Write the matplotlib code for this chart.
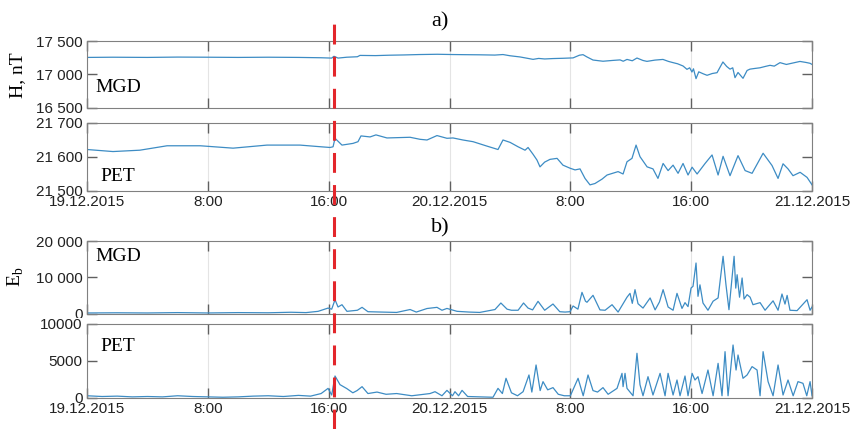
import numpy as np
import matplotlib.pyplot as plt
from matplotlib.lines import Line2D

plt.rcParams['font.family'] = 'Liberation Sans'

# time axis in hours from 19.12.2015 00:00
hour_ticks = [0, 8, 16, 24, 32, 40, 48]
tick_labels = ['19.12.2015', '8:00', '16:00', '20.12.2015', '8:00', '16:00', '21.12.2015']
event_hour = 16.35  # red dashed marker

# a) H component, MGD
mgd_h_t = [0, 1.7, 4, 6, 8, 10, 12, 14, 15.5, 16.2,
           16.35, 16.62, 17.2, 17.9, 18.07, 19.1, 20, 21, 22, 23.2,
           24.2, 25, 26, 27, 27.54, 28, 28.67, 29.2, 29.53, 29.9,
           30.3, 30.85, 31.5, 32.18, 32.6, 32.84, 33.1, 33.5, 34.16, 34.8,
           35.29, 35.5, 35.75, 36.1, 36.41, 36.8, 37.07, 37.6, 38.13, 38.5,
           38.8, 39.1, 39.46, 39.72, 39.9, 40.05, 40.15, 40.32, 40.5, 40.8,
           41.05, 41.4, 41.71, 42.1, 42.35, 42.57, 42.75, 42.9, 43.1, 43.43,
           43.7, 43.89, 44.2, 44.55, 44.9, 45.22, 45.5, 45.88, 46.3, 46.7,
           47.2, 47.6, 47.87, 48]
mgd_h = [17255, 17258, 17255, 17260, 17258, 17255, 17258, 17255, 17250, 17245,
         17272, 17245, 17258, 17265, 17285, 17282, 17288, 17292, 17298, 17302,
         17298, 17296, 17294, 17290, 17298, 17280, 17262, 17240, 17226, 17240,
         17232, 17238, 17242, 17248, 17288, 17296, 17262, 17216, 17198, 17210,
         17218, 17198, 17225, 17205, 17246, 17210, 17196, 17215, 17225, 17195,
         17177, 17160, 17127, 17077, 17100, 17037, 17085, 16938, 17040, 17010,
         16988, 17015, 17027, 17187, 17120, 17080, 17100, 16953, 17030, 16943,
         17060, 17080, 17090, 17100, 17120, 17137, 17125, 17177, 17150, 17170,
         17195, 17180, 17167, 17150]

# a) H component, PET
pet_h_t = [0, 1.72, 3.5, 5.3, 7.5, 9.67, 11.92, 14.1, 15.5, 16.09,
           16.29, 16.42, 16.88, 17.61, 17.94, 18.14, 18.74, 19.13, 19.86, 21.39,
           22.05, 22.51, 23.17, 23.83, 24.23, 24.89, 25.56, 26.48, 27.21, 27.54,
           28.01, 28.54, 29.0, 29.2, 29.53, 29.79, 29.99, 30.3, 30.65, 31.12,
           31.51, 31.98, 32.31, 32.64, 32.97, 33.3, 33.63, 34.1, 34.43, 35.16,
           35.49, 35.75, 36.08, 36.35, 36.61, 37.08, 37.47, 37.8, 38.14, 38.47,
           38.8, 39.13, 39.46, 39.79, 40.06, 40.39, 40.92, 41.38, 41.78, 42.11,
           42.57, 43.1, 43.57, 44.03, 44.76, 45.35, 45.75, 46.08, 46.41, 46.74,
           47.21, 47.67, 48.0]
pet_h = [21622, 21616, 21620, 21633, 21633, 21626, 21635, 21635, 21630, 21628,
         21630, 21655, 21635, 21640, 21645, 21662, 21659, 21665, 21656, 21658,
         21652, 21650, 21663, 21655, 21656, 21650, 21645, 21632, 21622, 21650,
         21643, 21630, 21620, 21628, 21608, 21591, 21571, 21585, 21593, 21596,
         21576, 21567, 21562, 21565, 21537, 21518, 21522, 21535, 21547, 21557,
         21550, 21586, 21596, 21635, 21601, 21571, 21565, 21537, 21581, 21560,
         21576, 21552, 21581, 21547, 21570, 21550, 21581, 21606, 21547, 21602,
         21545, 21604, 21560, 21552, 21611, 21575, 21537, 21580, 21565, 21545,
         21555, 21540, 21518]

# b) Eb, MGD
mgd_e_t = [0, 2, 4, 6, 8, 10, 12, 13.5, 14.5, 15.3,
           15.96, 16.2, 16.42, 16.62, 16.88, 17.21, 17.9, 18.21, 18.6, 19.5,
           20.5, 21.39, 21.8, 22.51, 23.17, 23.5, 23.83, 24.5, 25.3, 26.0,
           27.01, 27.4, 27.81, 28.1, 28.54, 28.9, 29.2, 29.5, 29.86, 30.3,
           30.85, 31.3, 31.65, 31.98, 32.18, 32.5, 32.77, 33.0, 33.1, 33.5,
           33.96, 34.3, 34.76, 35.16, 35.75, 35.95, 36.1, 36.28, 36.48, 36.81,
           37.28, 37.61, 37.9, 38.14, 38.47, 38.8, 39.06, 39.39, 39.59, 39.79,
           39.99, 40.12, 40.32, 40.45, 40.58, 40.78, 41.11, 41.45, 41.78, 42.11,
           42.3, 42.5, 42.84, 42.95, 43.04, 43.2, 43.37, 43.5, 43.7, 43.9,
           44.09, 44.56, 44.89, 45.42, 45.75, 46.01, 46.21, 46.35, 46.54, 47.01,
           47.67, 47.87, 48.0]
mgd_e = [150, 200, 150, 250, 150, 250, 200, 350, 250, 600,
         1500, 1200, 3800, 1800, 2430, 600, 900, 1700, 500, 400,
         300, 1100, 400, 1380, 1700, 900, 1400, 600, 400, 300,
         1100, 2900, 1200, 900, 900, 2900, 1500, 1000, 3360, 900,
         2620, 500, 400, 500, 2080, 1200, 5840, 3400, 3100, 5020,
         1000, 900, 2430, 400, 4500, 5560, 2800, 6580, 2700, 1500,
         4290, 1000, 3200, 6580, 1800, 900, 5560, 1400, 3000, 1900,
         7030, 7500, 13930, 4740, 7910, 2900, 900, 3400, 4300, 15780,
         8000, 1050, 15780, 7000, 10700, 4500, 9800, 4000, 5200, 4500,
         2430, 3000, 900, 3500, 900, 5380, 2600, 5000, 900, 800,
         3810, 900, 1800]

# b) Eb, PET
pet_e_t = [0, 1, 2, 3, 4, 5, 6, 7, 8, 9,
           10, 11, 12, 13, 14, 14.8, 15.5, 15.96, 16.2, 16.42,
           16.75, 17.2, 17.6, 17.88, 18.21, 18.6, 19.2, 19.8, 20.5, 21.5,
           22.71, 23.04, 23.5, 23.83, 24.2, 24.36, 24.6, 24.83, 25.2, 26.02,
           26.88, 27.21, 27.5, 27.74, 28.1, 28.5, 28.87, 29.26, 29.45, 29.73,
           30.0, 30.19, 30.5, 30.85, 31.2, 31.6, 32.0, 32.51, 32.85, 33.17,
           33.5, 33.8, 34.16, 34.5, 35.09, 35.42, 35.49, 35.62, 35.75, 36.15,
           36.41, 36.61, 36.81, 37.14, 37.47, 37.94, 38.27, 38.47, 38.8, 39.06,
           39.26, 39.59, 39.79, 40.06, 40.25, 40.45, 40.72, 41.11, 41.45, 41.78,
           42.04, 42.24, 42.44, 42.77, 42.97, 43.1, 43.43, 43.7, 44.03, 44.36,
           44.56, 44.76, 45.09, 45.42, 45.75, 46.08, 46.41, 46.75, 47.07, 47.4,
           47.65, 47.87, 48.0]
pet_e = [300, 200, 250, 150, 200, 150, 300, 200, 150, 100,
         150, 250, 300, 200, 350, 250, 600, 1300, 400, 2970,
         1800, 1270, 700, 1000, 1530, 600, 800, 500, 600, 300,
         600, 850, 300, 1030, 300, 850, 300, 1030, 200, 150,
         100, 1300, 600, 2660, 700, 300, 850, 3110, 800, 4460,
         1000, 2210, 1100, 1400, 500, 300, 300, 2660, 300, 3110,
         1000, 800, 1400, 500, 1300, 3330, 1530, 3330, 1300, 300,
         6040, 1800, 300, 2880, 400, 3330, 300, 3330, 400, 2430,
         300, 2970, 300, 3330, 2430, 2880, 600, 3780, 300, 4680,
         300, 6260, 300, 7160, 3780, 5810, 2660, 3110, 4240, 3780,
         300, 6260, 2210, 300, 4460, 400, 2430, 300, 2210, 1980,
         300, 2210, 300]

line_col = '#3d8cc4'

fig = plt.figure(figsize=(8.52, 4.29), dpi=100)
L, W = 0.1021, 0.851
ax1 = fig.add_axes([L, 0.7483, W, 0.1561])
ax2 = fig.add_axes([L, 0.5548, W, 0.1585])
ax3 = fig.add_axes([L, 0.2692, W, 0.1690])
ax4 = fig.add_axes([L, 0.0723, W, 0.1725])


def style(ax, yticks, ylabels, show_x):
    ax.set_xlim(0, 48)
    ax.set_xticks(hour_ticks)
    ax.set_xticklabels(tick_labels if show_x else [])
    ax.set_yticks(yticks)
    ax.set_yticklabels(ylabels)
    ax.set_ylim(yticks[0], yticks[-1])
    ax.tick_params(direction='in', length=7, width=1, color='#606060',
                   top=True, right=True, labelsize=11, labelcolor='#222222', pad=3)
    ax.grid(axis='x', color='#e4e4e4', lw=0.8)
    ax.set_axisbelow(True)
    for s in ax.spines.values():
        s.set_color('#808080')


ax1.plot(mgd_h_t, mgd_h, color=line_col, lw=0.9)
ax2.plot(pet_h_t, pet_h, color=line_col, lw=0.9)
ax3.plot(mgd_e_t, mgd_e, color=line_col, lw=0.9)
ax4.plot(pet_e_t, pet_e, color=line_col, lw=0.9)

style(ax1, [16500, 17000, 17500], ['16 500', '17 000', '17 500'], False)
style(ax2, [21500, 21600, 21700], ['21 500', '21 600', '21 700'], True)
style(ax3, [0, 10000, 20000], ['0', '10 000', '20 000'], False)
style(ax4, [0, 5000, 10000], ['0', '5000', '10000'], True)
ax4.get_yticklabels()[-1].set_bbox(dict(facecolor='white', edgecolor='none', pad=0))

serif = 'Liberation Serif'
ax1.text(0.012, 0.30, 'MGD', transform=ax1.transAxes, family=serif, size=14, va='center')
ax2.text(0.019, 0.21, 'PET', transform=ax2.transAxes, family=serif, size=14, va='center')
ax3.text(0.012, 0.78, 'MGD', transform=ax3.transAxes, family=serif, size=14, va='center')
ax4.text(0.019, 0.69, 'PET', transform=ax4.transAxes, family=serif, size=14, va='center')

fig.text(440 / 852, 1 - 22 / 429, 'a)', family=serif, size=16, ha='center', va='center')
fig.text(440 / 852, 1 - 228 / 429, 'b)', family=serif, size=16, ha='center', va='center')
fig.text(18 / 852, 1 - 75 / 429, 'H, nT', family=serif, size=14, rotation=90, ha='center', va='center')
fig.text(16 / 852, 1 - 277 / 429, 'E$_\\mathregular{b}$', family=serif, size=14, rotation=90,
         ha='center', va='center')

# red dashed event marker through all panels
xe = L + W * event_hour / 48
fig.add_artist(Line2D([xe, xe], [0, 1 - 12 / 429], transform=fig.transFigure,
                      color='#e3262b', lw=2.2, dashes=(6.5, 4)))

fig.savefig('out.png', dpi=100)
